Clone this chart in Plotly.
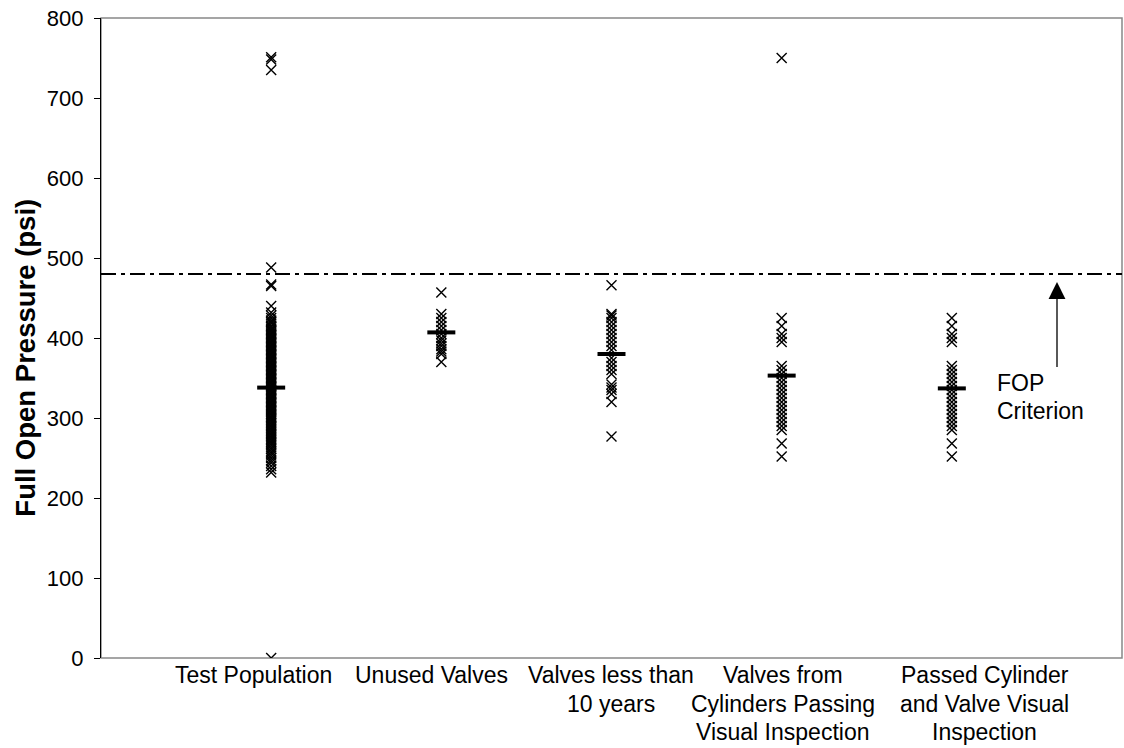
import plotly.graph_objects as go

category_lines = [["Test Population"],
                  ["Unused Valves"],
                  ["Valves less than", "10 years"],
                  ["Valves from", "Cylinders Passing", "Visual Inspection"],
                  ["Passed Cylinder", "and Valve Visual", "Inspection"]]
cat_pos = [1, 2, 3, 4, 5]

test_population = [0, 232, 236, 240, 244, 247, 250, 253, 256, 258, 261, 263, 266, 268, 270,
                   272, 274, 276, 278, 280, 282, 284, 286, 288, 290, 292, 294, 296, 298, 300,
                   301, 303, 305, 307, 309, 310, 312, 314, 315, 317, 319, 320, 322, 324, 325,
                   327, 329, 330, 332, 334, 335, 337, 339, 340, 342, 344, 345, 347, 349, 350,
                   352, 354, 355, 357, 359, 360, 362, 364, 365, 367, 369, 370, 372, 374, 375,
                   377, 379, 380, 382, 384, 385, 387, 389, 390, 392, 394, 395, 397, 399, 400,
                   402, 404, 405, 407, 409, 410, 412, 414, 415, 418, 420, 422, 425, 428, 432,
                   440, 465, 467, 488, 735, 748, 751]
unused_valves = [457, 430, 425, 420, 415, 410, 405, 400, 397, 393, 390, 386, 383, 380, 370]
less_10_years = [466, 430, 428, 425, 420, 415, 410, 405, 400, 395, 390, 385, 375, 370,
                 365, 360, 355, 342, 338, 335, 330, 320, 277]
cyl_passing = [750, 425, 415, 405, 400, 395, 365, 360, 355, 350, 345, 340, 335, 330, 325,
               320, 315, 310, 305, 300, 295, 290, 285, 268, 252]
passed_both = [425, 415, 405, 400, 395, 365, 360, 355, 350, 345, 340, 335, 330, 325,
               320, 315, 310, 305, 300, 295, 290, 285, 268, 252]
means = [338, 407, 380, 353, 337]
fop_criterion = 480

series = [test_population, unused_valves, less_10_years, cyl_passing, passed_both]

FONT = "Liberation Sans, Arial, sans-serif"
LABEL_SIZE = 23

fig = go.Figure()
for pos, vals in zip(cat_pos, series):
    fig.add_trace(go.Scatter(
        x=[pos] * len(vals), y=vals, mode="markers",
        marker=dict(symbol="x-thin", size=10, line=dict(color="black", width=1.4)),
        showlegend=False, hoverinfo="y"))

fig.add_trace(go.Scatter(
    x=cat_pos, y=means, mode="markers",
    marker=dict(symbol="line-ew", size=20, line=dict(color="black", width=4)),
    showlegend=False))

fig.add_trace(go.Scatter(
    x=[0, 6], y=[fop_criterion, fop_criterion], mode="lines",
    line=dict(color="black", width=1.8, dash="15px,5px,4px,5px"), showlegend=False))

fig.add_shape(type="rect", xref="paper", yref="paper", x0=0, x1=1, y0=0, y1=1,
              line=dict(color="#888888", width=1.5), layer="below")

# category labels (one annotation per text line), horizontal pixel offsets from category
label_shift = [-18, -10, -1, 1, 33]
for pos, lines, xs in zip(cat_pos, category_lines, label_shift):
    for i, line in enumerate(lines):
        fig.add_annotation(x=pos, y=0, xref="x", yref="paper", text=line, showarrow=False,
                           xanchor="center", yanchor="middle", xshift=xs,
                           yshift=-17 - 28.5 * i,
                           font=dict(family=FONT, size=LABEL_SIZE, color="black"))

# y-axis title
fig.add_annotation(x=-0.074, y=376, xref="paper", yref="y", text="<b>Full Open Pressure (psi)</b>",
                   textangle=-90, showarrow=False, xanchor="center", yanchor="middle",
                   font=dict(family=FONT, size=27.5, color="black"))

fig.add_annotation(x=5.618, y=470, ax=5.618, ay=362, xref="x", yref="y", axref="x", ayref="y",
                   text="", showarrow=True, arrowhead=2, arrowsize=2.6, arrowwidth=1.3,
                   arrowcolor="black")
fig.add_annotation(x=5.254, y=344, xref="x", yref="y", text="FOP",
                   showarrow=False, xanchor="left", yanchor="middle",
                   font=dict(family=FONT, size=LABEL_SIZE, color="black"))
fig.add_annotation(x=5.254, y=309, xref="x", yref="y", text="Criterion",
                   showarrow=False, xanchor="left", yanchor="middle",
                   font=dict(family=FONT, size=LABEL_SIZE, color="black"))

fig.update_layout(
    width=1124, height=748,
    margin=dict(l=101, r=2, t=18, b=90),
    plot_bgcolor="white", paper_bgcolor="white",
    font=dict(family=FONT, size=22, color="black"),
    xaxis=dict(range=[0, 6], showticklabels=False, showgrid=False,
               zeroline=False, showline=False, ticks=""),
    yaxis=dict(range=[0, 800], dtick=100, showgrid=False, zeroline=False,
               showline=True, linecolor="black", linewidth=1.3, ticks="outside",
               ticklen=6, tickcolor="black", tickfont=dict(size=22), ticklabelstandoff=6),
)

fig.write_html("out.html", config={"displayModeBar": False},
               post_script="document.body.style.margin='0';document.body.style.overflow='hidden';")
